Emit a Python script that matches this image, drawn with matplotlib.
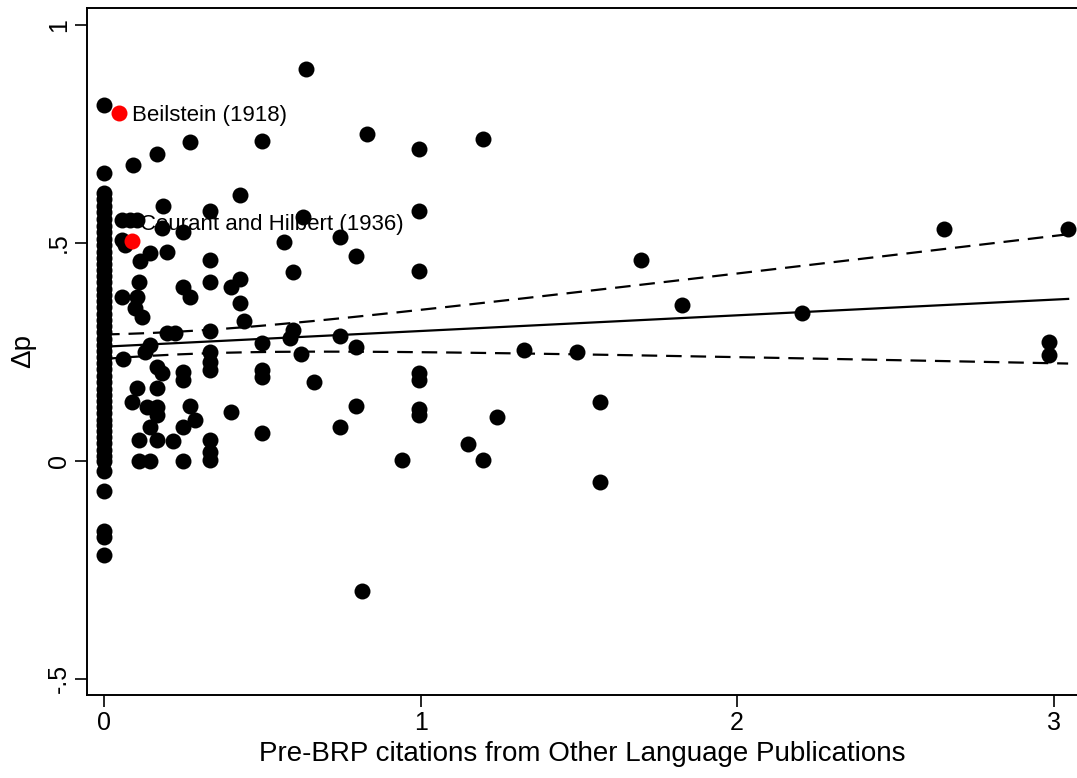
import numpy as np
import matplotlib
matplotlib.use("Agg")
import matplotlib.pyplot as plt

# ---------------------------------------------------------------------------
# Data
# ---------------------------------------------------------------------------

# Journals with no pre-BRP citations (all stacked at x = 0)
ZERO_Y = [
    -0.216, -0.174, -0.160, -0.069, -0.022,
    0.000, 0.012, 0.025, 0.040, 0.055, 0.068, 0.082, 0.095, 0.110, 0.124,
    0.138, 0.152, 0.166, 0.180, 0.195, 0.210, 0.224, 0.238, 0.252, 0.266,
    0.280, 0.295, 0.310, 0.324, 0.338, 0.352, 0.366, 0.380, 0.395, 0.410,
    0.424, 0.438, 0.452, 0.466, 0.480, 0.495, 0.510, 0.525, 0.540, 0.555,
    0.570, 0.585, 0.600, 0.615, 0.660, 0.817,
]

OTHER_X = [
    0.638, 0.830, 0.995, 1.196, 0.500, 0.270, 0.167, 0.090, 0.430, 0.186,
    0.335, 0.057, 0.082, 0.104, 0.183, 0.250, 0.057, 0.066, 0.145, 0.114,
    0.200, 0.335, 0.110, 0.250, 0.270, 0.335, 0.430, 0.400, 0.430, 0.443,
    0.057, 0.104, 0.098, 0.120, 0.200, 0.224, 0.335, 0.145, 0.130, 0.060,
    0.167, 0.183, 0.250, 0.250, 0.335, 0.335, 0.335, 0.500, 0.500, 0.500,
    0.104, 0.167, 0.088, 0.136, 0.167, 0.167, 0.270, 0.288, 0.250, 0.145,
    0.400, 0.500, 0.110, 0.167, 0.218, 0.335, 0.335, 0.335, 0.110, 0.145,
    0.250, 0.628, 0.746, 0.568, 0.796, 0.995, 0.995, 0.598, 0.598, 0.588,
    0.746, 0.796, 0.622, 0.664, 0.995, 0.995, 0.796, 0.995, 0.995, 1.242,
    0.746, 1.150, 0.942, 1.196, 0.815, 1.697, 1.826, 2.205, 1.327, 1.494,
    1.567, 1.567, 2.654, 3.046, 2.986, 2.986,
]
OTHER_Y = [
    0.899, 0.750, 0.716, 0.739, 0.734, 0.732, 0.704, 0.679, 0.610, 0.585,
    0.573, 0.553, 0.553, 0.553, 0.534, 0.525, 0.507, 0.495, 0.477, 0.459,
    0.479, 0.461, 0.410, 0.400, 0.376, 0.410, 0.418, 0.400, 0.363, 0.322,
    0.376, 0.376, 0.351, 0.330, 0.294, 0.294, 0.298, 0.266, 0.250, 0.234,
    0.216, 0.202, 0.204, 0.186, 0.250, 0.227, 0.209, 0.270, 0.209, 0.193,
    0.167, 0.167, 0.135, 0.124, 0.124, 0.105, 0.126, 0.094, 0.078, 0.078,
    0.112, 0.064, 0.048, 0.048, 0.046, 0.048, 0.020, 0.002, 0.000, 0.000,
    0.000, 0.559, 0.514, 0.502, 0.470, 0.573, 0.436, 0.433, 0.300, 0.282,
    0.287, 0.262, 0.245, 0.181, 0.202, 0.186, 0.126, 0.120, 0.105, 0.101,
    0.078, 0.039, 0.002, 0.002, -0.298, 0.461, 0.358, 0.340, 0.255, 0.250,
    0.136, -0.048, 0.532, 0.532, 0.273, 0.243,
]

# Highlighted books
HIGHLIGHT_NAMES = ["Beilstein (1918)", "Courant and Hilbert (1936)"]
HIGHLIGHT_X = [0.047, 0.088]
HIGHLIGHT_Y = [0.798, 0.505]

# Linear fit and 95% CI
FIT_INTERCEPT = 0.262
FIT_SLOPE = 0.036
CI_XMEAN = 0.2015
CI_A = 0.000677
CI_B = 0.002634

X_TICKS = [0, 1, 2, 3]
Y_TICKS = [-0.5, 0, 0.5, 1]
Y_TICK_LABELS = ["-.5", "0", ".5", "1"]

# ---------------------------------------------------------------------------
# Plot
# ---------------------------------------------------------------------------
plt.rcParams['font.family'] = ['Liberation Sans', 'DejaVu Sans']

W, H = 1077, 778
fig = plt.figure(figsize=(W / 100, H / 100), dpi=100)
ax = fig.add_axes([87 / W, 83 / H, (W - 87) / W, 687 / H])

msize = 11.5 ** 2
ax.scatter(np.zeros(len(ZERO_Y)), ZERO_Y, s=msize, c='black', linewidths=0, zorder=2)
ax.scatter(OTHER_X, OTHER_Y, s=msize, c='black', linewidths=0, zorder=2)

xmax = max(OTHER_X)
xs = np.linspace(0, xmax, 200)
yhat = FIT_INTERCEPT + FIT_SLOPE * xs
hw = np.sqrt(CI_A + CI_B * (xs - CI_XMEAN) ** 2)
ax.plot(xs, yhat, color='black', lw=1.6, zorder=3)
ax.plot(xs, yhat + hw, color='black', lw=1.6, dashes=(7, 4), zorder=3)
ax.plot(xs, yhat - hw, color='black', lw=1.6, dashes=(7, 4), zorder=3)

ax.scatter(HIGHLIGHT_X, HIGHLIGHT_Y, s=msize, c='red', linewidths=0, zorder=4)
offsets = [(9.5, -1.5), (6, 12)]
for name, x, y, off in zip(HIGHLIGHT_NAMES, HIGHLIGHT_X, HIGHLIGHT_Y, offsets):
    ax.annotate(name, (x, y), xytext=off, textcoords='offset points',
                ha='left', va='center', fontsize=16, zorder=5)

ax.set_xlim(-0.054, 3.074)
ax.set_ylim(-0.537, 1.039)

ax.set_xticks(X_TICKS)
ax.set_yticks(Y_TICKS)
ax.set_yticklabels(Y_TICK_LABELS, rotation=90, va='center')
ax.tick_params(direction='out', length=8.6, width=1.2, labelsize=18, pad=3)

ax.set_xlabel("Pre-BRP citations from Other Language Publications", fontsize=20, labelpad=4)
ax.set_ylabel("\u0394p", fontsize=20, labelpad=8)

ax.spines['right'].set_visible(False)
for side in ['left', 'bottom', 'top']:
    ax.spines[side].set_linewidth(1.4)

fig.savefig("out.png", dpi=100)
